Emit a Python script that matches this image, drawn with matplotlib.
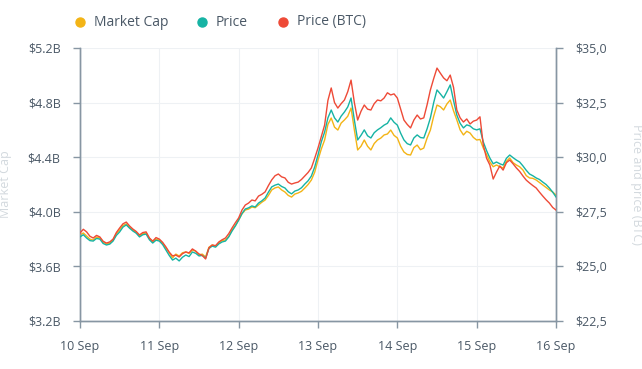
import matplotlib.pyplot as plt
import matplotlib.dates as mdates
from matplotlib.lines import Line2D
from matplotlib.ticker import FuncFormatter
import pandas as pd

plt.rcParams['font.family'] = ['Open Sans', 'DejaVu Sans']

# hourly samples, 10 Sep 00:00 -> 16 Sep 00:00
times = pd.date_range('2023-09-10', '2023-09-16', freq='1h')

market_cap = [  # $B
    3.830, 3.845, 3.823, 3.800, 3.793, 3.815, 3.808, 3.780, 3.764, 3.770, 3.793, 3.840,
    3.867, 3.900, 3.911, 3.885, 3.867, 3.850, 3.823, 3.840, 3.845, 3.805, 3.779, 3.800,
    3.793, 3.770, 3.735, 3.700, 3.662, 3.690, 3.676, 3.700, 3.706, 3.695, 3.720, 3.712,
    3.684, 3.690, 3.669, 3.740, 3.757, 3.748, 3.771, 3.790, 3.793, 3.820, 3.867, 3.900,
    3.940, 3.985, 4.013, 4.020, 4.035, 4.030, 4.050, 4.070, 4.086, 4.120, 4.160, 4.175,
    4.182, 4.160, 4.145, 4.120, 4.108, 4.130, 4.138, 4.150, 4.174, 4.200, 4.233, 4.290,
    4.379, 4.460, 4.526, 4.640, 4.687, 4.620, 4.599, 4.650, 4.673, 4.700, 4.760, 4.600,
    4.453, 4.480, 4.526, 4.480, 4.453, 4.500, 4.526, 4.540, 4.563, 4.570, 4.599, 4.560,
    4.541, 4.480, 4.438, 4.420, 4.416, 4.470, 4.489, 4.455, 4.467, 4.540, 4.599, 4.700,
    4.782, 4.770, 4.746, 4.790, 4.819, 4.740, 4.673, 4.600, 4.563, 4.590, 4.577, 4.545,
    4.526, 4.530, 4.467, 4.420, 4.365, 4.330, 4.343, 4.330, 4.321, 4.370, 4.394, 4.360,
    4.343, 4.330, 4.306, 4.265, 4.248, 4.245, 4.233, 4.215, 4.196, 4.180, 4.160, 4.145,
    4.123,
]
price = [
    26.35, 26.45, 26.30, 26.18, 26.16, 26.28, 26.25, 26.05, 25.98, 26.02, 26.16, 26.42,
    26.58, 26.80, 26.90, 26.75, 26.62, 26.52, 26.35, 26.45, 26.48, 26.22, 26.07, 26.20,
    26.16, 26.00, 25.75, 25.50, 25.29, 25.38, 25.25, 25.42, 25.52, 25.45, 25.66, 25.60,
    25.48, 25.50, 25.38, 25.82, 25.93, 25.88, 26.03, 26.12, 26.16, 26.35, 26.62, 26.85,
    27.12, 27.42, 27.63, 27.68, 27.77, 27.72, 27.90, 28.00, 28.13, 28.40, 28.64, 28.72,
    28.77, 28.66, 28.59, 28.42, 28.32, 28.45, 28.50, 28.60, 28.77, 28.92, 29.14, 29.55,
    30.10, 30.70, 31.15, 31.80, 32.16, 31.80, 31.61, 31.88, 32.07, 32.30, 32.71, 31.70,
    30.79, 31.00, 31.25, 30.98, 30.88, 31.12, 31.25, 31.35, 31.47, 31.55, 31.80, 31.60,
    31.47, 31.10, 30.79, 30.62, 30.56, 30.88, 31.02, 30.90, 30.88, 31.30, 31.80, 32.50,
    33.08, 32.90, 32.71, 33.00, 33.31, 32.60, 31.93, 31.55, 31.34, 31.48, 31.43, 31.30,
    31.25, 31.30, 30.70, 30.30, 29.96, 29.70, 29.78, 29.70, 29.64, 29.95, 30.10, 29.98,
    29.87, 29.78, 29.60, 29.40, 29.23, 29.15, 29.05, 28.98, 28.86, 28.75, 28.59, 28.40,
    28.18,
]
price_btc = [
    26.53, 26.70, 26.58, 26.38, 26.30, 26.42, 26.35, 26.15, 26.07, 26.12, 26.25, 26.55,
    26.76, 26.95, 27.03, 26.85, 26.71, 26.60, 26.44, 26.55, 26.58, 26.30, 26.16, 26.32,
    26.25, 26.10, 25.89, 25.65, 25.48, 25.52, 25.43, 25.58, 25.66, 25.62, 25.80, 25.70,
    25.57, 25.50, 25.34, 25.85, 25.98, 25.95, 26.12, 26.22, 26.30, 26.50, 26.76, 27.00,
    27.22, 27.58, 27.81, 27.90, 28.04, 28.00, 28.22, 28.30, 28.41, 28.70, 28.96, 29.15,
    29.23, 29.10, 29.05, 28.85, 28.77, 28.82, 28.86, 28.98, 29.14, 29.30, 29.51, 29.95,
    30.42, 30.95, 31.47, 32.60, 33.17, 32.50, 32.25, 32.45, 32.62, 33.00, 33.53, 32.50,
    31.70, 32.10, 32.39, 32.20, 32.16, 32.45, 32.62, 32.58, 32.71, 32.95, 32.85, 32.90,
    32.71, 32.20, 31.70, 31.50, 31.34, 31.70, 31.93, 31.75, 31.80, 32.40, 33.08, 33.60,
    34.08, 33.85, 33.63, 33.50, 33.76, 33.20, 32.16, 31.80, 31.61, 31.75, 31.52, 31.65,
    31.70, 31.85, 30.56, 29.95, 29.64, 29.00, 29.32, 29.60, 29.41, 29.75, 29.87, 29.70,
    29.51, 29.35, 29.14, 28.95, 28.82, 28.70, 28.59, 28.40, 28.22, 28.05, 27.90, 27.70,
    27.58,
]

left_ticks = [3.2, 3.6, 4.0, 4.4, 4.8, 5.2]
right_ticks = [22.5, 25.0, 27.5, 30.0, 32.5, 35.0]
legend_labels = ['Market Cap', 'Price', 'Price (BTC)']

c_cap = '#f3b416'
c_price = '#16b3a4'
c_btc = '#ee4a37'
axis_col = '#8796a3'
label_col = '#4a5866'
grid_col = '#eef1f4'

fig = plt.figure(figsize=(6.42, 3.69), dpi=100)
ax = fig.add_axes([80 / 642, 48 / 369, 476 / 642, 273 / 369])
ax2 = ax.twinx()

ax.plot(times, market_cap, color=c_cap, lw=1.0, zorder=3)
ax2.plot(times, price, color=c_price, lw=1.0, zorder=3)
ax2.plot(times, price_btc, color=c_btc, lw=1.0, zorder=3)

ax.set_ylim(3.2, 5.2)
ax2.set_ylim(22.5, 35.0)
ax.set_yticks(left_ticks)
ax2.set_yticks(right_ticks)
ax.yaxis.set_major_formatter(FuncFormatter(lambda v, _: '${:.1f}B'.format(v)))
ax2.yaxis.set_major_formatter(FuncFormatter(lambda v, _: '${:.1f}'.format(v).replace('.', ',')))

ax.set_xlim(times[0], times[-1])
ax.xaxis.set_major_locator(mdates.DayLocator())
ax.xaxis.set_major_formatter(mdates.DateFormatter('%d Sep'))

ax.grid(True, color=grid_col, lw=0.8, zorder=0)
for a in (ax, ax2):
    a.spines['top'].set_visible(False)
    for s in ('left', 'right', 'bottom'):
        a.spines[s].set_color(axis_col)
        a.spines[s].set_linewidth(1.0)
    a.tick_params(colors=axis_col, labelcolor=label_col, labelsize=9, length=5, width=1)
ax.tick_params(axis='x', pad=9)
ax.tick_params(axis='y', pad=9)
ax2.tick_params(axis='y', pad=9)

fig.text(6 / 642, 0.5, 'Market Cap', rotation=90, ha='center', va='center',
         color='#d3d9de', fontsize=9)
fig.text(637 / 642, 0.5, 'Price and price (BTC)', rotation=-90, ha='center', va='center',
         color='#d3d9de', fontsize=9)

# legend at the top: dot + label
leg_y = 1 - 22 / 369
for x_px, col, lab in zip([80, 202, 283], [c_cap, c_price, c_btc], legend_labels):
    fig.add_artist(Line2D([x_px / 642], [leg_y], ls='', marker='o', ms=6.5, color=col,
                          transform=fig.transFigure))
    fig.text((x_px + 14) / 642, leg_y, lab, ha='left', va='center', color=label_col,
             fontsize=10)

fig.savefig('out.png', dpi=100)
